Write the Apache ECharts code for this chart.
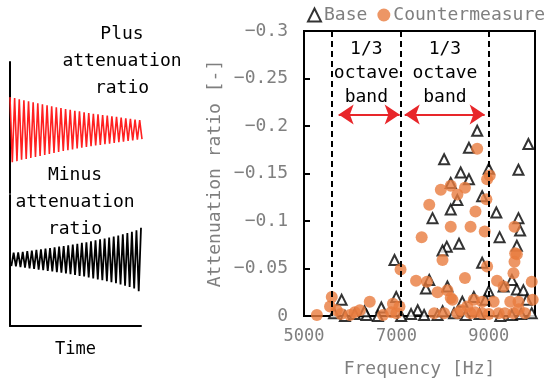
<!DOCTYPE html>
<html>
<head>
<meta charset="utf-8">
<script src="https://cdn.jsdelivr.net/npm/echarts@6/dist/echarts.min.js"></script>
<style>
html,body{margin:0;padding:0;background:#fff}
#main{width:549px;height:383px}
</style>
</head>
<body>
<div id="main"></div>
<script>
// frequency [Hz], attenuation ratio [-]
var base = [
  [8749,-0.195],[8570,-0.177],[9857,-0.181],[8033,-0.165],[8391,-0.151],[9000,-0.155],[9642,-0.154],
  [8570,-0.144],[8176,-0.140],[8320,-0.122],[8856,-0.126],[8176,-0.112],[9163,-0.109],[7782,-0.103],
  [9642,-0.103],[9678,-0.090],[9234,-0.083],[8355,-0.076],[8090,-0.073],[7998,-0.069],[9607,-0.074],
  [6959,-0.059],[8856,-0.056],[7711,-0.038],[7639,-0.029],[9500,-0.038],[9320,-0.031],[9607,-0.028],
  [9749,-0.027],[8999,-0.026],[6996,-0.020],[5815,-0.017],[8427,-0.015],[8676,-0.020],[8927,-0.017],
  [9822,-0.017],[8104,-0.031],[7461,-0.006],[6674,-0.009],[7318,-0.002],[5886,0],[6352,-0.001],
  [7103,0],[7890,-0.001],[8247,-0.003],[9249,0],[9929,-0.003],[5650,-0.003],[6100,-0.002],[6600,0],
  [7600,-0.001],[8500,-0.001],[8800,-0.002],[9500,-0.001],[9700,-0.002],[8000,-0.005],[6309,-0.005]
];
var counter = [
  [8749,-0.176],[8963,-0.144],[9020,-0.148],[7961,-0.133],[8176,-0.137],[8320,-0.128],[8484,-0.135],
  [8948,-0.123],[7711,-0.117],[8712,-0.110],[8176,-0.094],[8605,-0.094],[8912,-0.089],[9556,-0.094],
  [7547,-0.083],[9607,-0.065],[9556,-0.057],[7998,-0.059],[9534,-0.045],[8963,-0.052],[7090,-0.049],
  [7425,-0.037],[7661,-0.036],[8484,-0.040],[9178,-0.037],[9320,-0.031],[9929,-0.036],[7890,-0.025],
  [8104,-0.027],[8176,-0.019],[5601,-0.020],[6423,-0.015],[6925,-0.013],[5279,-0.001],[5564,-0.010],
  [5708,-0.006],[5994,-0.001],[6208,-0.006],[6710,-0.001],[6888,-0.004],[7067,-0.010],[7818,-0.003],
  [8033,-0.003],[8320,-0.003],[8534,-0.010],[8676,-0.017],[8856,-0.015],[8605,-0.003],[8856,-0.003],
  [9105,-0.015],[9212,-0.003],[9464,-0.015],[9642,-0.015],[9534,-0.003],[9785,-0.003],[9950,-0.017],
  [6100,-0.004],[7000,-0.003],[5800,-0.002],[8400,-0.006],[8700,-0.004],[9000,-0.002],[9350,-0.003],
  [9650,-0.007],[9571,-0.066],[8213,-0.017]
];
var bandEdges = [5600, 7100, 9000];
var bandMid = [6350, 8050];
var bandText = '1/3\noctave\nband';
var arrowY = -0.212;

// peak amplitudes of the sketch waves (left panel)
var redAmp = [1.00,0.97,0.93,0.90,0.87,0.84,0.81,0.78,0.75,0.72,0.69,0.66,0.63,0.61,0.58,
  0.56,0.53,0.51,0.49,0.47,0.45,0.43,0.41,0.39,0.37,0.35,0.33,0.31,0.29];
var blackAmp = [0.21,0.22,0.24,0.26,0.28,0.30,0.32,0.34,0.36,0.38,0.40,0.42,0.44,0.47,0.49,
  0.52,0.54,0.57,0.60,0.63,0.66,0.69,0.72,0.75,0.79,0.83,0.87,0.92,1.00];

function wave(amp, sign) {
  var out = [];
  amp.forEach(function (a, i) {
    out.push([i, sign * a]);
    out.push([i + 0.5, -sign * a]);
  });
  return out;
}

var mono = 'DejaVu Sans Mono';
var gray = '#7f7f7f';
var orange = '#E97C3E';

var myChart = echarts.init(document.getElementById('main'));
var hidden = {show: false};
option = {
  animation: false,
  legend: {
    data: ['Base', 'Countermeasure'],
    left: 307, top: 6, padding: 0,
    itemWidth: 13, itemHeight: 13, itemGap: 10,
    textStyle: {color: gray, fontSize: 18, fontFamily: mono, padding: [0, 0, 0, -2]}
  },
  grid: [
    {left: 304, right: 14, top: 31, bottom: 67, show: true, borderColor: '#000', borderWidth: 2},
    {left: 10, top: 62, width: 132, height: 131},
    {left: 10, top: 195, width: 131, height: 131}
  ],
  xAxis: [
    {
      gridIndex: 0, type: 'value', min: 5000, max: 10000, interval: 2000,
      axisLine: {onZero: false, lineStyle: {color: '#000', width: 2}},
      axisTick: hidden, splitLine: hidden,
      axisLabel: {color: gray, fontSize: 17, fontFamily: mono, margin: 12,
        formatter: function (v) { return v === 10000 ? '' : v; }},
      name: 'Frequency [Hz]', nameLocation: 'middle', nameGap: 44,
      nameTextStyle: {color: gray, fontSize: 18, fontFamily: mono}
    },
    {gridIndex: 1, type: 'value', min: 0, max: 28.5, show: false},
    {
      gridIndex: 2, type: 'value', min: -0.3, max: 28.5,
      axisLine: {onZero: false, lineStyle: {color: '#000', width: 2}},
      axisTick: hidden, axisLabel: hidden, splitLine: hidden,
      name: 'Time', nameLocation: 'middle', nameGap: 15,
      nameTextStyle: {color: '#000', fontSize: 17, fontFamily: mono}
    }
  ],
  yAxis: [
    {
      gridIndex: 0, type: 'value', min: -0.3, max: 0, interval: 0.05, inverse: true,
      axisLine: {show: true, onZero: false, lineStyle: {color: '#000', width: 2}},
      axisTick: {show: true, inside: true, length: 6, lineStyle: {color: '#000', width: 2}},
      splitLine: hidden,
      axisLabel: {color: gray, fontSize: 18, fontFamily: mono, margin: 16,
        formatter: function (v) { return v === 0 ? '0' : String(+v.toFixed(2)).replace('-', '\u2212'); }},
      name: 'Attenuation ratio [-]', nameLocation: 'middle', nameGap: 80, nameRotate: 90,
      nameTextStyle: {color: gray, fontSize: 18, fontFamily: mono}
    },
    {
      gridIndex: 1, type: 'value', min: -1.95, max: 2.08,
      axisLine: {show: true, onZero: false, lineStyle: {color: '#000', width: 2}},
      axisTick: hidden, axisLabel: hidden, splitLine: hidden
    },
    {
      gridIndex: 2, type: 'value', min: -2.10, max: 2.03,
      axisLine: {show: true, onZero: false, lineStyle: {color: '#000', width: 2}},
      axisTick: hidden, axisLabel: hidden, splitLine: hidden
    }
  ],
  graphic: [
    {type: 'text', style: {x: 122, y: 61, text: 'Plus\nattenuation\nratio', textAlign: 'center',
      textVerticalAlign: 'middle', lineHeight: 27, fontSize: 18, fontFamily: mono, fill: '#000'}},
    {type: 'text', style: {x: 75, y: 202, text: 'Minus\nattenuation\nratio', textAlign: 'center',
      textVerticalAlign: 'middle', lineHeight: 27, fontSize: 18, fontFamily: mono, fill: '#000'}}
  ],
  series: [
    {
      name: 'Base', type: 'scatter', xAxisIndex: 0, yAxisIndex: 0, z: 3,
      symbol: 'triangle', symbolSize: 10,
      itemStyle: {color: '#fff', borderColor: '#000', borderWidth: 2},
      data: base
    },
    {
      name: 'Countermeasure', type: 'scatter', xAxisIndex: 0, yAxisIndex: 0, z: 4,
      symbol: 'circle', symbolSize: 12,
      itemStyle: {color: orange},
      data: counter
    },
    {
      name: 'bands', type: 'line', xAxisIndex: 0, yAxisIndex: 0, data: [],
      markLine: {
        silent: true, symbol: 'none', label: hidden,
        lineStyle: {color: '#000', width: 2, type: [6, 4]},
        data: bandEdges.map(function (x) { return {xAxis: x}; })
      }
    },
    {
      name: 'arrows', type: 'line', xAxisIndex: 0, yAxisIndex: 0, data: [],
      markLine: {
        silent: true, symbol: ['arrow', 'arrow'], symbolSize: 15, label: hidden,
        lineStyle: {color: '#E8262A', width: 2, type: 'solid'},
        data: [
          [{coord: [bandEdges[0] + 150, arrowY]}, {coord: [bandEdges[1] - 30, arrowY]}],
          [{coord: [bandEdges[1] + 80, arrowY]}, {coord: [bandEdges[2] - 90, arrowY]}]
        ]
      },
      markPoint: {
        silent: true, symbol: 'circle', symbolSize: 1,
        itemStyle: {color: 'rgba(0,0,0,0)'},
        label: {show: true, position: 'inside', formatter: bandText, color: '#000',
          fontSize: 18, fontFamily: mono, lineHeight: 24},
        data: bandMid.map(function (x) { return {coord: [x, -0.255]}; })
      }
    },
    {
      name: 'plus', type: 'line', xAxisIndex: 1, yAxisIndex: 1, showSymbol: false,
      lineStyle: {color: '#FF2020', width: 1.6}, data: wave(redAmp, 1)
    },
    {
      name: 'minus', type: 'line', xAxisIndex: 2, yAxisIndex: 2, showSymbol: false,
      lineStyle: {color: '#000', width: 1.8}, data: wave(blackAmp, -1)
    }
  ]
};
if (option && typeof option == "object") {
  myChart.setOption(option, true);
}
</script>
</body>
</html>
